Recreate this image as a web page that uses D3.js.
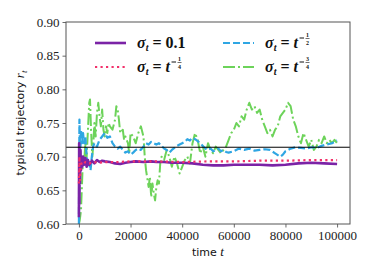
<!DOCTYPE html>
<html>
<head>
<meta charset="utf-8">
<script src="https://cdn.jsdelivr.net/npm/d3@7"></script>
<style>
body { margin: 0; background: #fff; }
text { white-space: pre; }
</style>
</head>
<body>
<div id="chart"></div>
<script>
// axis ticks
var xTicks = [0, 20000, 40000, 60000, 80000, 100000];
var yTicks = [0.60, 0.65, 0.70, 0.75, 0.80, 0.85, 0.90];
var targetValue = 0.714;

// sigma_t = 0.1 (purple)
var sigmaConst = [[0,0.61],[100,0.72],[200,0.63],[300,0.70],[400,0.66],[600,0.71],[800,0.68],[1000,0.70],
  [1300,0.685],[1600,0.70],[2000,0.688],[2500,0.698],[3000,0.685],[3500,0.695],[4000,0.688],[5000,0.694],
  [6000,0.69],[7000,0.695],[8000,0.692],[9000,0.694],[10000,0.693],[12000,0.692],[14000,0.69],[16000,0.689],
  [18000,0.691],[20000,0.692],[22000,0.693],[25000,0.692],[28000,0.693],[30000,0.692],[33000,0.692],
  [36000,0.691],[40000,0.691],[44000,0.69],[48000,0.688],[52000,0.687],[56000,0.687],[60000,0.688],
  [65000,0.688],[70000,0.688],[75000,0.687],[80000,0.688],[85000,0.69],[90000,0.691],[95000,0.69],[100000,0.689]];

// sigma_t = t^(-1/4) (pink, dotted)
var sigmaQuarter = [[0,0.66],[200,0.70],[400,0.665],[700,0.685],[1000,0.69],[1500,0.688],[2500,0.692],
  [4000,0.69],[6000,0.692],[8000,0.691],[10000,0.692],[15000,0.692],[20000,0.693],[30000,0.693],
  [40000,0.692],[50000,0.693],[60000,0.693],[70000,0.694],[80000,0.694],[90000,0.695],[100000,0.695]];

// sigma_t = t^(-1/2) (blue, dashed)
var sigmaHalf = [[0,0.60],[200,0.755],[500,0.70],[800,0.74],[1200,0.72],[1600,0.735],[2000,0.72],[2500,0.73],
  [3000,0.70],[3500,0.685],[4000,0.69],[4500,0.68],[5000,0.70],[5500,0.715],[6000,0.72],[7000,0.715],
  [8000,0.725],[9000,0.73],[10000,0.735],[11000,0.728],[12000,0.73],[13000,0.72],[14000,0.715],[15000,0.712],
  [16000,0.715],[17000,0.71],[18000,0.706],[19000,0.708],[20000,0.703],[21000,0.706],[22000,0.71],
  [23000,0.712],[24000,0.71],[25000,0.715],[26000,0.72],[27000,0.718],[28000,0.722],[29000,0.72],
  [30000,0.718],[31000,0.72],[32000,0.716],[33000,0.712],[34000,0.71],[35000,0.706],[36000,0.71],
  [37000,0.713],[38000,0.716],[39000,0.718],[40000,0.72],[41000,0.722],[42000,0.726],[43000,0.724],
  [44000,0.728],[45000,0.726],[46000,0.723],[47000,0.72],[48000,0.716],[49000,0.712],[50000,0.71],
  [51000,0.712],[52000,0.708],[53000,0.71],[54000,0.712],[55000,0.708],[56000,0.71],[57000,0.707],
  [58000,0.706],[60000,0.708],[62000,0.712],[64000,0.71],[66000,0.712],[68000,0.709],[70000,0.71],
  [72000,0.711],[74000,0.71],[76000,0.705],[78000,0.70],[79000,0.703],[80000,0.708],[82000,0.712],
  [84000,0.714],[86000,0.713],[88000,0.712],[90000,0.714],[92000,0.713],[94000,0.716],[96000,0.718],
  [98000,0.72],[100000,0.724]];

// sigma_t = t^(-3/4) (green, dash-dot)
var sigmaThreeQuarter = [[0,0.60],[300,0.605],[800,0.62],[1200,0.66],[1600,0.70],[2000,0.69],[2500,0.72],
  [3000,0.70],[3500,0.74],[4000,0.78],[4300,0.785],[4700,0.74],[5200,0.70],[5600,0.72],[6000,0.75],
  [6500,0.73],[7000,0.765],[7500,0.78],[8000,0.76],[8500,0.745],[9000,0.77],[9500,0.74],[10000,0.73],
  [10500,0.745],[11000,0.735],[11500,0.75],[12000,0.745],[13000,0.74],[14000,0.755],[14500,0.775],
  [15000,0.77],[15500,0.755],[16000,0.735],[17000,0.74],[17500,0.725],[18000,0.73],[19000,0.72],
  [19500,0.705],[20000,0.735],[21000,0.73],[22000,0.72],[23000,0.735],[24000,0.745],[25000,0.73],
  [25500,0.70],[26000,0.68],[27000,0.655],[27500,0.67],[28000,0.64],[28500,0.66],[29000,0.645],
  [29500,0.635],[30000,0.655],[30500,0.665],[31000,0.66],[31500,0.69],[32000,0.70],[33000,0.695],
  [34000,0.71],[35000,0.70],[36000,0.685],[37000,0.70],[38000,0.69],[39000,0.675],[40000,0.685],
  [41000,0.695],[42000,0.70],[43000,0.69],[44000,0.72],[45000,0.735],[46000,0.725],[47000,0.705],
  [48000,0.715],[49000,0.70],[50000,0.72],[51000,0.71],[52000,0.705],[53000,0.715],[54000,0.71],
  [55000,0.705],[56000,0.71],[57000,0.715],[58000,0.725],[59000,0.735],[60000,0.74],[61000,0.75],
  [62000,0.745],[63000,0.76],[64000,0.755],[65000,0.77],[66000,0.78],[67000,0.77],[68000,0.775],
  [69000,0.765],[70000,0.77],[71000,0.755],[72000,0.745],[73000,0.735],[74000,0.74],[75000,0.73],
  [76000,0.74],[77000,0.745],[78000,0.76],[79000,0.765],[80000,0.77],[81000,0.78],[82000,0.775],
  [83000,0.755],[84000,0.745],[85000,0.73],[86000,0.72],[87000,0.735],[88000,0.725],[89000,0.715],
  [90000,0.725],[91000,0.71],[92000,0.715],[93000,0.725],[94000,0.72],[95000,0.73],[96000,0.72],
  [97000,0.725],[98000,0.72],[99000,0.725],[100000,0.72]];

var width = 374, height = 280;
var margin = {top: 22, right: 24, bottom: 56, left: 66};

var svg = d3.select("#chart").append("svg")
    .attr("width", width)
    .attr("height", height);

var x = d3.scaleLinear().domain([-5000, 105000]).range([margin.left, width - margin.right]);
var y = d3.scaleLinear().domain([0.60, 0.90]).range([height - margin.bottom, margin.top]);

var serif = "'Liberation Serif', 'DejaVu Serif', serif";
var sans = "'DejaVu Sans', sans-serif";

// clip to the plot area
svg.append("clipPath").attr("id", "plot-clip")
  .append("rect")
    .attr("x", margin.left).attr("y", margin.top)
    .attr("width", width - margin.left - margin.right)
    .attr("height", height - margin.top - margin.bottom);

var line = d3.line()
    .x(function(d) { return x(d[0]); })
    .y(function(d) { return y(d[1]); });

var series = [
  {data: sigmaThreeQuarter, color: "#6dd35a", width: 2, dash: "12,3,2,3"},
  {data: sigmaHalf, color: "#2fa6e3", width: 2.2, dash: "7,3"},
  {data: sigmaConst, color: "#7b23a6", width: 2.6, dash: null},
  {data: sigmaQuarter, color: "#f2306a", width: 2.2, dash: "2.2,3.3"}
];

var plot = svg.append("g").attr("clip-path", "url(#plot-clip)");

series.forEach(function(s) {
  plot.append("path")
    .datum(s.data)
    .attr("d", line)
    .attr("fill", "none")
    .attr("stroke", s.color)
    .attr("stroke-width", s.width)
    .attr("stroke-dasharray", s.dash)
    .attr("stroke-linejoin", "round");
});

// target line
plot.append("line")
  .attr("x1", margin.left).attr("x2", width - margin.right)
  .attr("y1", y(targetValue)).attr("y2", y(targetValue))
  .attr("stroke", "#000").attr("stroke-width", 1);

// axes
var xAxis = svg.append("g")
  .attr("transform", "translate(0," + (height - margin.bottom) + ")")
  .call(d3.axisBottom(x).tickValues(xTicks).tickSize(3.5).tickPadding(3).tickFormat(d3.format("d")));
var yAxis = svg.append("g")
  .attr("transform", "translate(" + margin.left + ",0)")
  .call(d3.axisLeft(y).tickValues(yTicks).tickSize(3.5).tickPadding(3).tickFormat(d3.format(".2f")));

[xAxis, yAxis].forEach(function(a) {
  a.select(".domain").remove();
  a.selectAll(".tick line").attr("stroke", "#444").attr("stroke-width", 0.8);
  a.selectAll(".tick text").style("font-family", serif).style("font-size", "13px").attr("fill", "#222");
});

// frame
svg.append("rect")
  .attr("x", margin.left).attr("y", margin.top)
  .attr("width", width - margin.left - margin.right)
  .attr("height", height - margin.top - margin.bottom)
  .attr("fill", "none").attr("stroke", "#555").attr("stroke-width", 1);

// axis labels
var xl = svg.append("text")
  .attr("x", (margin.left + width - margin.right) / 2)
  .attr("y", 256)
  .attr("text-anchor", "middle")
  .style("font-family", sans).style("font-size", "11px").attr("fill", "#111");
xl.append("tspan").text("time ");
xl.append("tspan").style("font-family", serif).style("font-style", "italic").style("font-size", "13px").text("t");

var yl = svg.append("text")
  .attr("transform", "translate(24," + ((margin.top + height - margin.bottom) / 2) + ") rotate(-90)")
  .attr("text-anchor", "middle")
  .style("font-family", sans).style("font-size", "11px").attr("fill", "#111");
yl.append("tspan").text("typical trajectory ");
yl.append("tspan").style("font-family", serif).style("font-style", "italic").style("font-size", "13px").text("r");
yl.append("tspan").style("font-family", serif).style("font-style", "italic").style("font-size", "9px").attr("dy", 3).text("t");

// legend
var legendItems = [
  {s: series[2], col: 0, row: 0, frac: null},
  {s: series[3], col: 0, row: 1, frac: ["1", "4"]},
  {s: series[1], col: 1, row: 0, frac: ["1", "2"]},
  {s: series[0], col: 1, row: 1, frac: ["3", "4"]}
];
var colX = [95, 223], rowY = [43, 67];

legendItems.forEach(function(item) {
  var hx = colX[item.col], hy = rowY[item.row];
  svg.append("line")
    .attr("x1", hx).attr("x2", hx + 31)
    .attr("y1", hy).attr("y2", hy)
    .attr("stroke", item.s.color)
    .attr("stroke-width", item.s.width)
    .attr("stroke-dasharray", item.s.dash);

  var tx = hx + 42, ty = hy + 5;
  var t = svg.append("text").attr("x", tx).attr("y", ty)
    .style("font-family", serif).style("font-weight", "bold").style("font-size", "16px").attr("fill", "#111");
  t.append("tspan").style("font-style", "italic").text("σ");
  t.append("tspan").style("font-style", "italic").style("font-size", "10px").attr("dy", 3).text("t");
  t.append("tspan").attr("dy", -3).attr("dx", 4).text("=");
  if (!item.frac) {
    t.append("tspan").attr("dx", 4).text("0.1");
  } else {
    t.append("tspan").attr("dx", 4).style("font-style", "italic").text("t");
    var sx = tx + t.node().getBBox().width + 1;
    svg.append("line")
      .attr("x1", sx).attr("x2", sx + 4.5)
      .attr("y1", ty - 10).attr("y2", ty - 10)
      .attr("stroke", "#111").attr("stroke-width", 1);
    var fx = sx + 8;
    svg.append("line")
      .attr("x1", fx - 2).attr("x2", fx + 2)
      .attr("y1", ty - 9.5).attr("y2", ty - 9.5)
      .attr("stroke", "#111").attr("stroke-width", 0.6);
    svg.append("text").attr("x", fx).attr("y", ty - 11).attr("text-anchor", "middle")
      .style("font-family", serif).style("font-weight", "bold").style("font-size", "6px").attr("fill", "#111")
      .text(item.frac[0]);
    svg.append("text").attr("x", fx).attr("y", ty - 3.5).attr("text-anchor", "middle")
      .style("font-family", serif).style("font-weight", "bold").style("font-size", "6px").attr("fill", "#111")
      .text(item.frac[1]);
  }
});
</script>
</body>
</html>
